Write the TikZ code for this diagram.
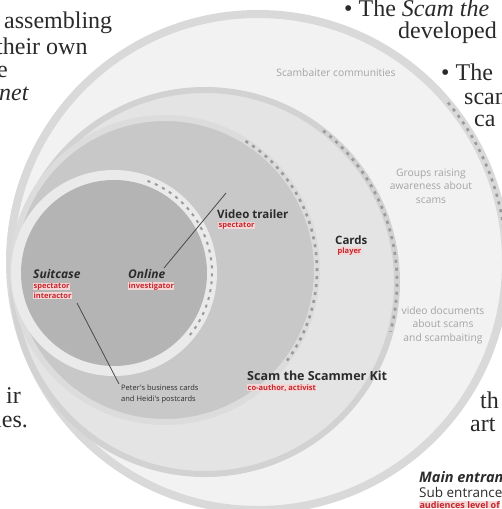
\documentclass[tikz,border=0pt]{standalone}
\usepackage{fontspec}
\setmainfont{Liberation Serif}
\newfontfamily\labfont{Open Sans}
\definecolor{fillE}{HTML}{F2F2F2}
\definecolor{bandE}{HTML}{D9D9D9}
\definecolor{fillC}{HTML}{E4E4E4}
\definecolor{bandC}{HTML}{D2D2D2}
\definecolor{fillB}{HTML}{C8C8C8}
\definecolor{bandB}{HTML}{DCDCDC}
\definecolor{ringA}{HTML}{EAEAEA}
\definecolor{fillA}{HTML}{B4B4B4}
\definecolor{dashcol}{HTML}{9A9A9A}
\definecolor{txt}{HTML}{2B2B2B}
\definecolor{audred}{HTML}{C8262C}
\definecolor{audbg}{HTML}{F3D6D6}
\definecolor{gtext}{HTML}{A4A4A4}
\definecolor{bodytxt}{HTML}{2A2A2A}
\definecolor{leader}{HTML}{4A4A4A}
\tikzset{
  body/.style={font=\fontsize{24}{25}\selectfont, text=bodytxt, inner sep=0pt, anchor=base west},
  bodyit/.style={body, font=\itshape\fontsize{24}{25}\selectfont},
  lbl/.style={font=\labfont\bfseries\fontsize{11.5}{12}\selectfont, text=txt, inner sep=0pt, anchor=base west},
  lbli/.style={lbl, font=\labfont\bfseries\itshape\fontsize{12}{13}\selectfont},
  aud/.style={font=\labfont\bfseries\fontsize{7.5}{8}\selectfont, text=audred, fill=audbg, inner sep=0.5pt, anchor=base west},
  small/.style={font=\labfont\fontsize{7.5}{8}\selectfont, text=txt, inner sep=0pt, anchor=base west},
  grey/.style={font=\labfont\fontsize{10.3}{13.5}\selectfont, text=gtext, align=center, inner sep=0pt},
  dashring/.style={draw=dashcol, line width=2.6pt, dash pattern=on 3pt off 5pt},
  leaderline/.style={draw=leader, line width=0.8pt}
}
\begin{document}
\begin{tikzpicture}[x=1pt,y=-1pt]
\useasboundingbox (0,0) rectangle (502,509);
\clip (0,0) rectangle (502,509);
\fill[white] (0,0) rectangle (502,509);
\coordinate (cE) at (258,262);
\coordinate (cC) at (205,282);
\coordinate (cB) at (165,270);
\coordinate (cA) at (114,273);
% outer circle
\fill[fillE] (cE) circle (248pt);
\draw[bandE, line width=8pt] (cE) circle (248pt);
\draw[dashring] (cE) ++(40:248pt) arc[start angle=40, end angle=5, radius=248pt];
% circle C
\fill[fillC] (cC) circle (192pt);
\draw[bandC, line width=6pt] (cC) circle (192pt);
\draw[dashring] (cC) ++(52:192pt) arc[start angle=52, end angle=-15, radius=192pt];
% circle B
\fill[fillB] (cB) circle (152pt);
\draw[bandB, line width=6pt] (cB) circle (152pt);
\draw[dashring] (cB) ++(58:152pt) arc[start angle=58, end angle=-38, radius=152pt];
% circle A
\fill[ringA] (cA) circle (103pt);
\fill[fillA] (cA) circle (93pt);
\draw[dashring, line width=2pt] (cA) ++(70:98pt) arc[start angle=70, end angle=-40, radius=98pt];

% body text fragments
\node[body] (t1) at (4,28) {assembling};
\node[body] (t2) at (-4,54) {their own};
\node[body] (t3) at (-3,77) {e};
\node[bodyit] (t4) at (-1,100) {net};
\node[body] (t5) at (344,16) {\textbullet\ The \textit{Scam the}};
\node[body] (t6) at (398,38) {developed};
\node[body] (t7) at (441,80) {\textbullet\ The};
\node[body] (t8) at (464,104) {scam};
\node[body] (t9) at (474,126) {ca};
\node[body] (t10) at (6,403) {ir};
\node[body] (t11) at (-5,427) {les.};
\node[body] (t12) at (480,408) {th};
\node[body] (t13) at (470,431) {art};

% grey descriptions
\node[grey] (g1) at (336,73) {Scambaiter communities};
\node[grey] (g2) at (431,186) {Groups raising\\awareness about\\scams};
\node[grey] (g3) at (443,325) {video documents\\about scams\\and scambaiting};

% labels
\node[lbli] (suit) at (33,278) {Suitcase};
\node[aud] (suit1) at (33,288) {spectator};
\node[aud] (suit2) at (33,298) {interactor};
\node[lbli] (onl) at (128,278) {Online};
\node[aud] (onl1) at (128,288) {investigator};
\node[lbl] (vid) at (217,218) {Video trailer};
\node[aud] (vid1) at (218,227) {spectator};
\node[lbl] (cards) at (335,244) {Cards};
\node[aud] (cards1) at (337,253) {player};
\node[lbl, font=\labfont\bfseries\fontsize{12.5}{13}\selectfont] (kit) at (247,380) {Scam the Scammer Kit};
\node[aud] (kit1) at (247,390) {co-author, activist};
\node[small] (pet1) at (121,390) {Peter's business cards};
\node[small] (pet2) at (121,401) {and Heidi's postcards};

% leaders
\coordinate (vidend) at (226,193);
\coordinate (onlend) at (164,268);
\draw[leaderline] (vidend) -- (onlend);
\coordinate (suitend) at (77,303);
\coordinate (petend) at (119,384);
\draw[leaderline] (suitend) -- (petend);

% legend
\node[lbli, font=\labfont\bfseries\itshape\fontsize{14.5}{15}\selectfont] (leg1) at (419,482) {Main entrance};
\node[lbl, font=\labfont\fontsize{13.5}{14}\selectfont] (leg2) at (419,497) {Sub entrance};
\node[aud, font=\labfont\bfseries\fontsize{9}{10}\selectfont, inner sep=0.3pt] (leg3) at (419,508) {audiences level of};
\end{tikzpicture}
\end{document}
